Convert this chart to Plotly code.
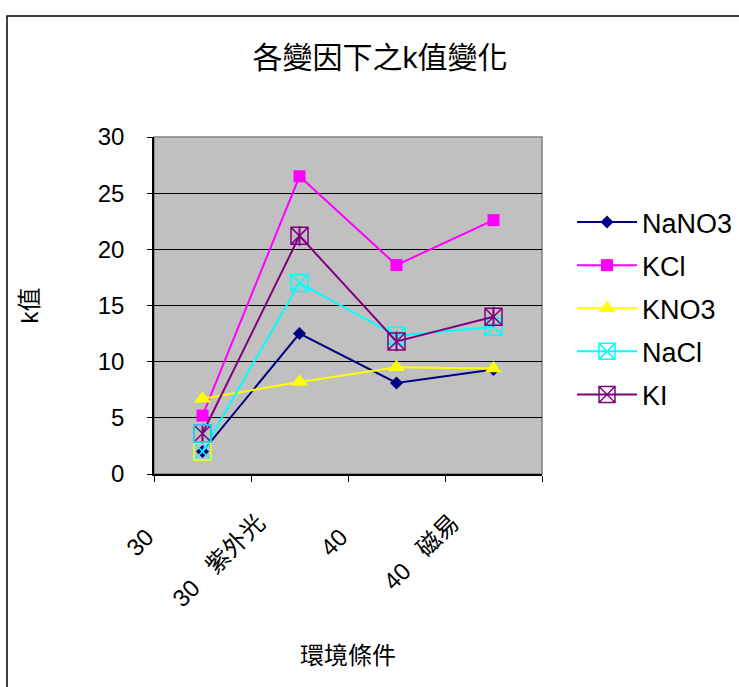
import plotly.graph_objects as go

# Categories (environment conditions) and the k value of each salt
categories = ["30", "30   紫外光", "40", "40   磁易"]
nano3 = [2.0, 12.5, 8.1, 9.3]
kcl = [5.2, 26.5, 18.6, 22.6]
kno3 = [6.7, 8.2, 9.5, 9.4]
nacl = [2.0, 17.0, 12.3, 13.1]
ki = [3.6, 21.2, 11.8, 14.0]

y_ticks = [0, 5, 10, 15, 20, 25, 30]

FONT = "Arial, 'Liberation Sans', 'Noto Sans CJK TC', sans-serif"
xs = list(range(len(categories)))

# pad rotated labels so they hang away from the axis
pad = {True: "\u00a0" * 8, False: "\u00a0" * 5}
tick_text = [c.replace(" ", "\u00a0") + pad[len(c) <= 2] for c in categories]

fig = go.Figure()

fig.add_trace(go.Scatter(
    x=xs, y=nano3, name="NaNO3", mode="lines+markers", legendgroup="g1",
    line=dict(color="#000080", width=2),
    marker=dict(symbol="diamond", size=10, color="#000080")))
fig.add_trace(go.Scatter(
    x=xs, y=kcl, name="KCl", mode="lines+markers", legendgroup="g2",
    line=dict(color="#FF00FF", width=2),
    marker=dict(symbol="square", size=12, color="#FF00FF")))
fig.add_trace(go.Scatter(
    x=xs, y=kno3, name="KNO3", mode="lines+markers", legendgroup="g3",
    line=dict(color="#FFFF00", width=2),
    marker=dict(symbol="triangle-up", size=15, color="#FFFF00")))
fig.add_trace(go.Scatter(
    x=xs, y=nacl, name="NaCl", mode="lines+markers", legendgroup="g4",
    line=dict(color="#00FFFF", width=2),
    marker=dict(symbol="square-x-open", size=17, color="#00FFFF",
                line=dict(width=1.5, color="#00FFFF"))))
# first NaCl point has a yellow frame
fig.add_trace(go.Scatter(
    x=xs[:1], y=nacl[:1], mode="markers", showlegend=False, hoverinfo="skip",
    legendgroup="g4",
    marker=dict(symbol="square-open", size=17, color="#FFFF00",
                line=dict(width=1.5, color="#FFFF00"))))
fig.add_trace(go.Scatter(
    x=xs, y=ki, name="KI", mode="lines+markers", legendgroup="g5",
    line=dict(color="#800080", width=2),
    marker=dict(symbol="square-x-open", size=17, color="#800080",
                line=dict(width=1.5, color="#800080"))))
# vertical stroke completing the star inside the KI box
fig.add_trace(go.Scatter(
    x=xs, y=ki, mode="markers", showlegend=False, hoverinfo="skip",
    legendgroup="g5",
    marker=dict(symbol="line-ns-open", size=14, color="#800080",
                line=dict(width=2, color="#800080"))))
# first KI point has a cyan frame
fig.add_trace(go.Scatter(
    x=xs[:1], y=ki[:1], mode="markers", showlegend=False, hoverinfo="skip",
    legendgroup="g5",
    marker=dict(symbol="square-open", size=17, color="#00FFFF",
                line=dict(width=1.5, color="#00FFFF"))))

L, R, T, B = 154, 197, 137, 213
W, H = 739, 687
pw, ph = W - L - R, H - T - B

fig.update_layout(
    width=W, height=H,
    margin=dict(l=L, r=R, t=T, b=B, autoexpand=False),
    paper_bgcolor="white", plot_bgcolor="#C0C0C0",
    font=dict(family=FONT, size=24, color="black"),
    title=dict(text="各變因下之k值變化", x=380 / W, xanchor="center",
               y=1 - 57 / H, yanchor="middle",
               font=dict(size=30, family=FONT)),
    showlegend=True,
    legend=dict(x=(572 - L) / pw, y=(T - 198) / ph + 1, xanchor="left", yanchor="top",
                bgcolor="rgba(0,0,0,0)", font=dict(size=27, family=FONT),
                itemwidth=60, traceorder="grouped", tracegroupgap=5),
    xaxis=dict(
        range=[-0.5, len(categories) - 0.5], tickmode="array",
        tickvals=xs, ticktext=tick_text, tickangle=-45,
        ticklabelshift=-18,
        ticks="", showgrid=False, zeroline=False,
        showline=True, linecolor="black", linewidth=1.5,
        minor=dict(tickmode="linear", tick0=-0.5, dtick=1, ticks="outside",
                   ticklen=6, tickcolor="black", showgrid=False),
        tickfont=dict(size=24, family=FONT),
        title=dict(text="環境條件", font=dict(size=24, family=FONT), standoff=36),
    ),
    yaxis=dict(
        range=[0, 30], tickmode="array", tickvals=y_ticks,
        ticks="outside", ticklen=5, tickcolor="black",
        showgrid=True, gridcolor="black", gridwidth=1, zeroline=False,
        showline=True, linecolor="black", linewidth=1.5,
        ticklabelstandoff=18,
        tickfont=dict(size=24, family=FONT),
        title=dict(text="k值", font=dict(size=24, family=FONT), standoff=52),
    ),
)

# grey frame around the plot area
fig.add_shape(type="rect", xref="paper", yref="paper", x0=0, x1=1, y0=0, y1=1,
              line=dict(color="#808080", width=1.5), layer="below")
# chart border (left and top edges)
fig.add_shape(type="path", xref="paper", yref="paper",
              path=f"M {(7 - L) / pw},{-2} L {(7 - L) / pw},{(H - B - 16) / ph} L {2},{(H - B - 16) / ph}",
              line=dict(color="black", width=1.5))

fig.write_html("out.html")
